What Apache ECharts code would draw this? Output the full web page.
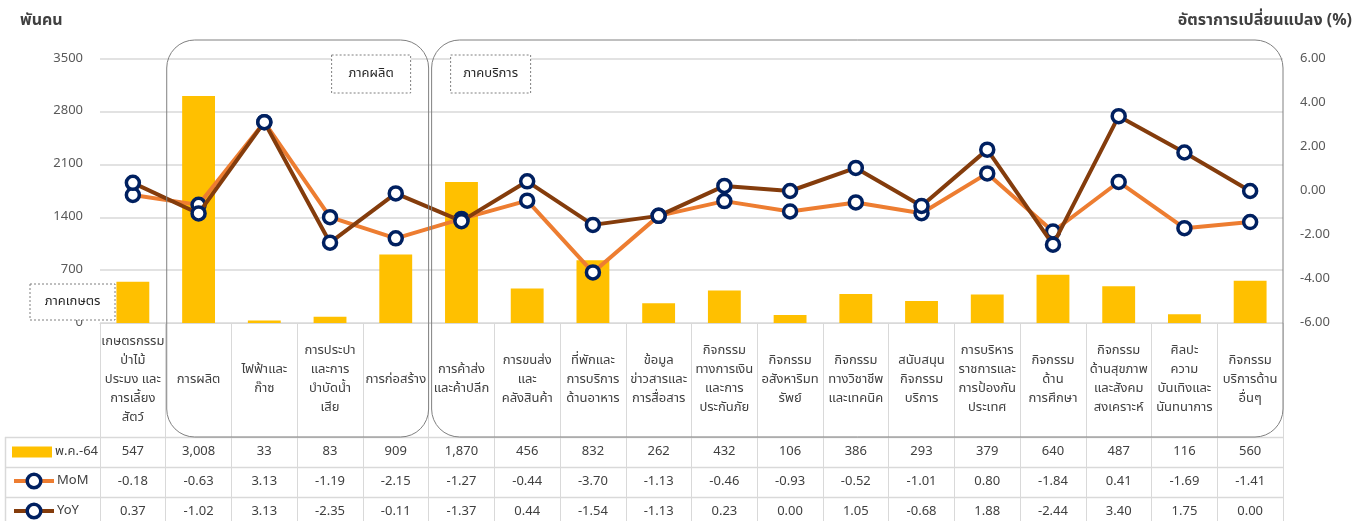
<!DOCTYPE html>
<html><head><meta charset="utf-8">
<script src="https://cdn.jsdelivr.net/npm/echarts@6/dist/echarts.min.js"></script>
<style>html,body{margin:0;padding:0;background:#fff}#c{width:1371px;height:521px}</style>
</head><body><div id="c"></div>
<script>
const categories = [
  "เกษตรกรรม\nป่าไม้\nประมง และ\nการเลี้ยง\nสัตว์",
  "การผลิต",
  "ไฟฟ้าและ\nก๊าซ",
  "การประปา\nและการ\nบำบัดน้ำ\nเสีย",
  "การก่อสร้าง",
  "การค้าส่ง\nและค้าปลีก",
  "การขนส่ง\nและ\nคลังสินค้า",
  "ที่พักและ\nการบริการ\nด้านอาหาร",
  "ข้อมูล\nข่าวสารและ\nการสื่อสาร",
  "กิจกรรม\nทางการเงิน\nและการ\nประกันภัย",
  "กิจกรรม\nอสังหาริมท\nรัพย์",
  "กิจกรรม\nทางวิชาชีพ\nและเทคนิค",
  "สนับสนุน\nกิจกรรม\nบริการ",
  "การบริหาร\nราชการและ\nการป้องกัน\nประเทศ",
  "กิจกรรม\nด้าน\nการศึกษา",
  "กิจกรรม\nด้านสุขภาพ\nและสังคม\nสงเคราะห์",
  "ศิลปะ\nความ\nบันเทิงและ\nนันทนาการ",
  "กิจกรรม\nบริการด้าน\nอื่นๆ"
];
const employment = [547, 3008, 33, 83, 909, 1870, 456, 832, 262, 432, 106, 386, 293, 379, 640, 487, 116, 560];
const mom = [-0.18, -0.63, 3.13, -1.19, -2.15, -1.27, -0.44, -3.70, -1.13, -0.46, -0.93, -0.52, -1.01, 0.80, -1.84, 0.41, -1.69, -1.41];
const yoy = [0.37, -1.02, 3.13, -2.35, -0.11, -1.37, 0.44, -1.54, -1.13, 0.23, 0.00, 1.05, -0.68, 1.88, -2.44, 3.40, 1.75, 0.00];
const seriesNames = ["พ.ค.-64", "MoM", "YoY"];
const leftAxisTicks = [0, 700, 1400, 2100, 2800, 3500];
const rightAxisTicks = [-6, -4, -2, 0, 2, 4, 6];
const leftTitle = "พันคน";
const rightTitle = "อัตราการเปลี่ยนแปลง (%)";
const sectorNames = ["ภาคเกษตร", "ภาคผลิต", "ภาคบริการ"];
const sectorRanges = [[0, 0], [1, 4], [5, 17]];

const FONT = "Tahoma, 'Noto Sans Thai', 'Noto Sans', 'DejaVu Sans', sans-serif";
const TXT = '#404040';
const GRID_LINE = '#d9d9d9';
const catRowH = 114, dataRowH = 30;

const chart = echarts.init(document.getElementById('c'), null, {renderer: 'canvas'});

const fmtInt = v => v.toLocaleString('en-US');
const fmt2 = v => v.toFixed(2);

function valueAxis(dataArr, fmt, rowIdx) {
  return {
    type: 'category', gridIndex: 0, position: 'bottom', data: dataArr.map(fmt),
    axisLine: {show: false}, axisTick: {show: false}, splitLine: {show: false},
    axisLabel: {interval: 0, margin: catRowH + dataRowH * rowIdx + dataRowH / 2, verticalAlign: 'middle',
      color: TXT, fontSize: 13, fontFamily: FONT}
  };
}

const markerStyle = {color: '#ffffff', borderColor: '#002060', borderWidth: 3.5};
const lineColors = ['#FFC000', '#ED7D31', '#843C0C'];

function legendRow(k) {
  const h = k === 0 ? 11 : 17;
  return {
    orient: 'horizontal', left: 12, top: 323 + catRowH + dataRowH * k + dataRowH / 2 - h / 2 - 1,
    padding: 0, itemWidth: 40, itemHeight: h, itemGap: 4,
    textStyle: {color: TXT, fontSize: 13, fontFamily: FONT, lineHeight: h, padding: [0, 0, 0, -2]},
    data: [k === 0 ? {name: seriesNames[k], icon: 'rect'} :
      {name: seriesNames[k], lineStyle: {width: 4, color: lineColors[k]},
       itemStyle: {color: '#ffffff', borderColor: '#002060', borderWidth: 3.5}}]
  };
}

chart.setOption({
  animation: false,
  backgroundColor: '#ffffff',
  textStyle: {fontFamily: FONT},
  grid: {left: 100, right: 88, top: 59, bottom: 198, containLabel: false},
  legend: [legendRow(0), legendRow(1), legendRow(2)],
  xAxis: [
    {
      type: 'category', data: categories, gridIndex: 0, position: 'bottom',
      axisLine: {show: true, lineStyle: {color: GRID_LINE, width: 1}},
      axisTick: {show: true, interval: 0, length: catRowH + dataRowH * 3 + 10, lineStyle: {color: GRID_LINE, width: 1}},
      axisLabel: {interval: 0, margin: catRowH / 2, verticalAlign: 'middle', align: 'center',
        color: TXT, fontSize: 13, lineHeight: 19, fontFamily: FONT}
    },
    valueAxis(employment, fmtInt, 0),
    valueAxis(mom, fmt2, 1),
    valueAxis(yoy, fmt2, 2)
  ],
  yAxis: [
    {
      type: 'value', min: leftAxisTicks[0], max: leftAxisTicks[leftAxisTicks.length - 1],
      interval: leftAxisTicks[1] - leftAxisTicks[0],
      axisLine: {show: false}, axisTick: {show: false},
      splitLine: {lineStyle: {color: GRID_LINE, width: 1.5}},
      axisLabel: {margin: 17, color: '#595959', fontSize: 13, fontFamily: FONT, formatter: v => String(v)}
    },
    {
      type: 'value', position: 'right', min: rightAxisTicks[0], max: rightAxisTicks[rightAxisTicks.length - 1],
      interval: rightAxisTicks[1] - rightAxisTicks[0],
      axisLine: {show: false}, axisTick: {show: false}, splitLine: {show: false},
      axisLabel: {margin: 17, color: '#595959', fontSize: 13, fontFamily: FONT, formatter: v => v.toFixed(2)}
    }
  ],
  series: [
    {name: seriesNames[0], type: 'bar', data: employment, barWidth: '50%',
      itemStyle: {color: lineColors[0]}, xAxisIndex: 0, yAxisIndex: 0},
    {name: seriesNames[1], type: 'line', data: mom, yAxisIndex: 1, xAxisIndex: 0,
      symbol: 'circle', symbolSize: 13, lineStyle: {color: lineColors[1], width: 4},
      itemStyle: markerStyle, z: 3},
    {name: seriesNames[2], type: 'line', data: yoy, yAxisIndex: 1, xAxisIndex: 0,
      symbol: 'circle', symbolSize: 13, lineStyle: {color: lineColors[2], width: 4},
      itemStyle: markerStyle, z: 4}
  ]
});

// Build the table frame and sector annotations from the chart's own scales
const cx = i => chart.convertToPixel({xAxisIndex: 0}, i);
const cw = cx(1) - cx(0);
const yTop = chart.convertToPixel({yAxisIndex: 0}, leftAxisTicks[leftAxisTicks.length - 1]);
const yBase = chart.convertToPixel({yAxisIndex: 0}, 0);
const xRightEdge = cx(categories.length - 1) + cw / 2;
const tableTop = yBase + catRowH;
const g = [];
for (let r = 0; r < 3; r++) {
  const y = Math.round(tableTop + r * dataRowH) + 0.5;
  g.push({type: 'line', shape: {x1: 5, y1: y, x2: xRightEdge, y2: y}, style: {stroke: GRID_LINE, lineWidth: 1.5}});
}
g.push({type: 'line', shape: {x1: 5.5, y1: tableTop, x2: 5.5, y2: 521}, style: {stroke: GRID_LINE, lineWidth: 1.5}});
[1, 2].forEach(k => {
  const [a, b] = sectorRanges[k];
  const x1 = cx(a) - cw / 2 + (k === 1 ? 1 : 3);
  const x2 = cx(b) + cw / 2;
  g.push({type: 'rect', shape: {x: x1, y: yTop - 19, width: x2 - x1, height: tableTop - (yTop - 19), r: 28},
    style: {fill: null, stroke: '#808080', lineWidth: 1}, z: 10});
});
function labelBox(name, x, y, w, h) {
  g.push({type: 'rect', shape: {x: x, y: y, width: w, height: h},
    style: {fill: '#ffffff', stroke: '#7f7f7f', lineWidth: 1, lineDash: [2, 2]}, z: 11});
  g.push({type: 'text', x: x + w / 2, y: y + h / 2, style: {text: name, align: 'center', verticalAlign: 'middle',
    fill: '#262626', font: "13px " + FONT}, z: 12});
}
labelBox(sectorNames[0], 30, yBase - 39, 85, 36);
labelBox(sectorNames[1], cx(sectorRanges[1][1]) + cw / 2 - 97, yTop - 4, 79, 38);
labelBox(sectorNames[2], cx(sectorRanges[2][0]) - cw / 2 + 22, yTop - 4, 80, 38);
g.push({type: 'text', x: 20, y: 22, style: {text: leftTitle, align: 'left', verticalAlign: 'middle',
  fill: TXT, font: "bold 16px " + FONT}});
g.push({type: 'text', x: 1352, y: 22, style: {text: rightTitle, align: 'right', verticalAlign: 'middle',
  fill: TXT, font: "bold 16px " + FONT}});
chart.setOption({graphic: {elements: g}});
</script>
</body></html>
